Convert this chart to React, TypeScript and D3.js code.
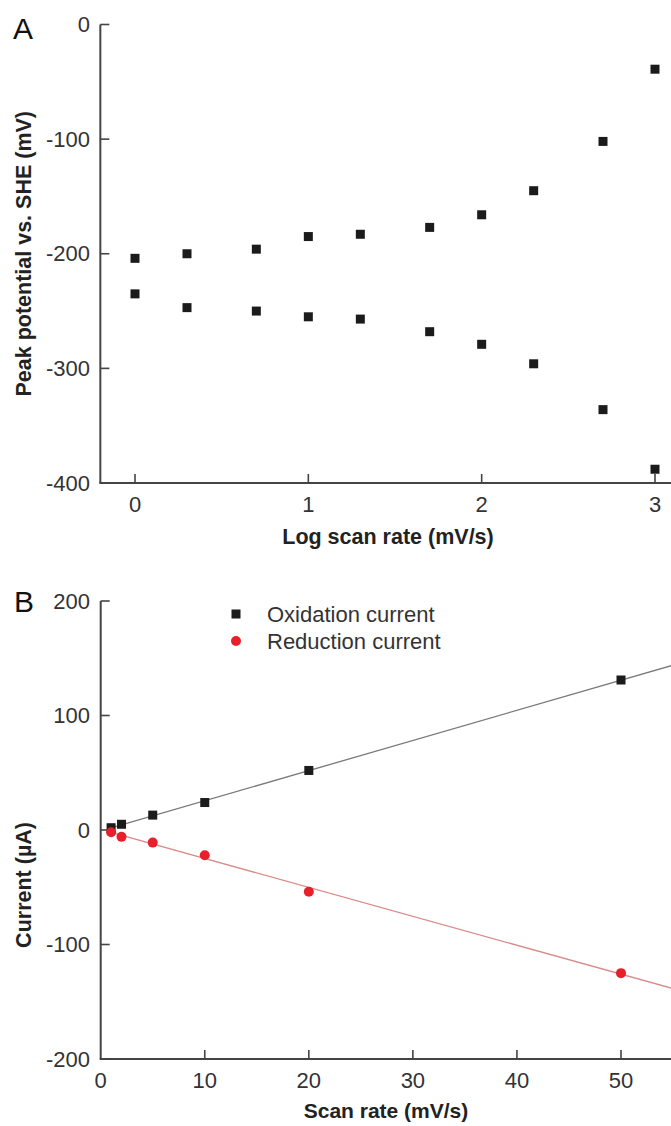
import React from 'react';
import * as d3 from 'd3';

// Panel A: peak potentials vs log scan rate
const logScanRate = [0, 0.3, 0.7, 1, 1.3, 1.7, 2, 2.3, 2.7, 3];
const anodicPeak = [-204, -200, -196, -185, -183, -177, -166, -145, -102, -39];
const cathodicPeak = [-235, -247, -250, -255, -257, -268, -279, -296, -336, -388];
const ticksA_x = [0, 1, 2, 3];
const ticksA_y = [0, -100, -200, -300, -400];

// Panel B: peak currents vs scan rate
const scanRate = [1, 2, 5, 10, 20, 50];
const oxidationCurrent = [2, 5, 13, 24, 52, 131];
const reductionCurrent = [-2, -6, -11, -22, -54, -125];
const ticksB_x = [0, 10, 20, 30, 40, 50];
const ticksB_y = [200, 100, 0, -100, -200];

const FONT = 'Liberation Sans, Arial, Helvetica, sans-serif';
const AXIS = '#444';
const LABEL = '#333';

// least squares fit
function fit(xs: number[], ys: number[]) {
  const mx = d3.mean(xs)!;
  const my = d3.mean(ys)!;
  const sxy = d3.sum(xs, (x, i) => (x - mx) * (ys[i] - my));
  const sxx = d3.sum(xs, (x) => (x - mx) ** 2);
  const slope = sxy / sxx;
  return { slope, intercept: my - slope * mx };
}

const App = () => {
  const xA = d3.scaleLinear().domain([0, 3]).range([135, 655]);
  const yA = d3.scaleLinear().domain([-400, 0]).range([483, 24.5]);
  const xB = d3.scaleLinear().domain([0, 50]).range([100.7, 621]);
  const yB = d3.scaleLinear().domain([-200, 200]).range([1059, 601]);

  const oxFit = fit(scanRate, oxidationCurrent);
  const redFit = fit(scanRate, reductionCurrent);
  const fitLine = (f: { slope: number; intercept: number }) =>
    d3
      .line<number>()
      .x((d) => xB(d))
      .y((d) => yB(f.slope * d + f.intercept))([1, 58]) as string;

  const sq = 9;
  const axisLeftA = xA(-0.2);
  const axisLeftB = xB(0);

  return (
    <div style={{ position: 'absolute', left: 0, top: 0 }}>
      <svg width={671} height={1126} style={{ display: 'block', fontFamily: FONT }}>
        <rect width={671} height={1126} fill="#fff" />

        {/* ---------- Panel A ---------- */}
        <text x={13} y={39} fontSize={30} fill="#111">A</text>
        <line x1={axisLeftA} x2={axisLeftA} y1={yA(0)} y2={yA(-400)} stroke={AXIS} strokeWidth={2} />
        <line x1={axisLeftA - 1} x2={671} y1={yA(-400)} y2={yA(-400)} stroke={AXIS} strokeWidth={2} />
        {ticksA_y.map((t) => (
          <g key={'ay' + t}>
            <line x1={axisLeftA} x2={axisLeftA + 9} y1={yA(t)} y2={yA(t)} stroke={AXIS} strokeWidth={1.6} />
            <text x={90} y={yA(t)} dy="0.35em" textAnchor="end" fontSize={22} fill={LABEL}>{t}</text>
          </g>
        ))}
        {ticksA_x.map((t) => (
          <g key={'ax' + t}>
            <line x1={xA(t)} x2={xA(t)} y1={yA(-400)} y2={yA(-400) - 9} stroke={AXIS} strokeWidth={1.6} />
            <text x={xA(t)} y={yA(-400) + 29} textAnchor="middle" fontSize={22} fill={LABEL}>{t}</text>
          </g>
        ))}
        {logScanRate.map((x, i) => (
          <g key={'pa' + i}>
            <rect x={xA(x) - sq / 2} y={yA(anodicPeak[i]) - sq / 2} width={sq} height={sq} fill="#1b1b1b" />
            <rect x={xA(x) - sq / 2} y={yA(cathodicPeak[i]) - sq / 2} width={sq} height={sq} fill="#1b1b1b" />
          </g>
        ))}
        <text x={388} y={544} textAnchor="middle" fontSize={21.5} fontWeight="bold" fill="#222">
          Log scan rate (mV/s)
        </text>
        <text
          transform={`translate(31,${(yA(0) + yA(-400)) / 2}) rotate(-90)`}
          textAnchor="middle"
          fontSize={21.5}
          fontWeight="bold"
          fill="#222"
        >
          Peak potential vs. SHE (mV)
        </text>

        {/* ---------- Panel B ---------- */}
        <text x={14} y={612} fontSize={30} fill="#111">B</text>
        <line x1={axisLeftB} x2={axisLeftB} y1={yB(200)} y2={yB(-200)} stroke={AXIS} strokeWidth={2} />
        <line x1={axisLeftB - 1} x2={671} y1={yB(-200)} y2={yB(-200)} stroke={AXIS} strokeWidth={2} />
        {ticksB_y.map((t) => (
          <g key={'by' + t}>
            <line x1={axisLeftB} x2={axisLeftB + 9} y1={yB(t)} y2={yB(t)} stroke={AXIS} strokeWidth={1.6} />
            <text x={90} y={yB(t)} dy="0.35em" textAnchor="end" fontSize={22} fill={LABEL}>{t}</text>
          </g>
        ))}
        {ticksB_x.map((t) => (
          <g key={'bx' + t}>
            {t !== 0 && (
              <line x1={xB(t)} x2={xB(t)} y1={yB(-200)} y2={yB(-200) - 9} stroke={AXIS} strokeWidth={1.6} />
            )}
            <text x={xB(t)} y={yB(-200) + 29} textAnchor="middle" fontSize={22} fill={LABEL}>{t}</text>
          </g>
        ))}

        <path d={fitLine(oxFit)} stroke="#7a7a7a" strokeWidth={1.3} fill="none" />
        <path d={fitLine(redFit)} stroke="#d98a8a" strokeWidth={1.3} fill="none" />

        {scanRate.map((x, i) => (
          <g key={'pb' + i}>
            <rect x={xB(x) - sq / 2} y={yB(oxidationCurrent[i]) - sq / 2} width={sq} height={sq} fill="#1b1b1b" />
            <circle cx={xB(x)} cy={yB(reductionCurrent[i])} r={5} fill="#e8202c" />
          </g>
        ))}

        {/* legend */}
        <rect x={236 - sq / 2} y={614 - sq / 2} width={sq} height={sq} fill="#1b1b1b" />
        <text x={267} y={614} dy="0.35em" fontSize={22} fill={LABEL}>Oxidation current</text>
        <circle cx={236} cy={641} r={5} fill="#e8202c" />
        <text x={267} y={641} dy="0.35em" fontSize={22} fill={LABEL}>Reduction current</text>

        <text x={386} y={1118} textAnchor="middle" fontSize={21} fontWeight="bold" fill="#222">
          Scan rate (mV/s)
        </text>
        <text
          transform={`translate(31,${yB(-48)}) rotate(-90)`}
          textAnchor="middle"
          fontSize={21.5}
          fontWeight="bold"
          fill="#222"
        >
          Current (µA)
        </text>
      </svg>
    </div>
  );
};

export default App;
